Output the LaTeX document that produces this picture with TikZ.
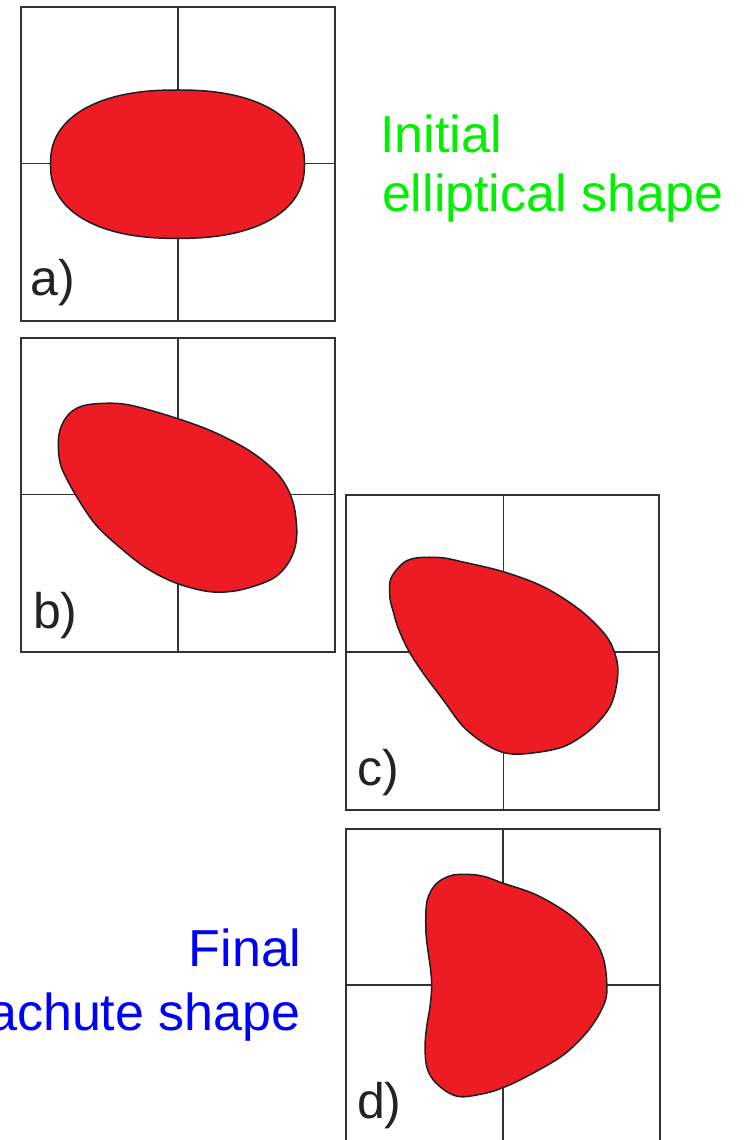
\documentclass[tikz,border=0pt]{standalone}
\usepackage{fontspec}
\setmainfont{Liberation Sans}
\definecolor{blobred}{RGB}{237,28,36}
\definecolor{edge}{RGB}{30,30,30}
\definecolor{frame}{RGB}{50,50,50}
\definecolor{labgray}{RGB}{35,35,35}
\definecolor{initgreen}{RGB}{0,240,0}
\definecolor{finalblue}{RGB}{0,0,250}
\tikzset{
  panelbox/.style={draw=frame, line width=2pt},
  panelcross/.style={draw=frame, line width=1.6pt},
  blob/.style={fill=blobred, draw=edge, line width=1.5pt, line join=round},
  panellabel/.style={text=labgray, font=\fontsize{50}{56}\selectfont, inner sep=0pt, outer sep=0pt, anchor=base west},
  greentext/.style={text=initgreen, font=\fontsize{52}{60}\selectfont, inner sep=0pt, outer sep=0pt, anchor=base west},
  bluetext/.style={text=finalblue, font=\fontsize{52}{60}\selectfont, inner sep=0pt, outer sep=0pt, anchor=base east},
}
\begin{document}
\begin{tikzpicture}[x=1pt,y=-1pt]
\useasboundingbox (0,0) rectangle (751,1140);
\clip (0,0) rectangle (751,1140);
% ---------- panel a ----------
\draw[panelbox] (21,7) rectangle (335,321);
\draw[panelcross] (178,7) -- (178,321) (21,163.5) -- (335,163.5);
\draw[blob] plot[domain=0.5:360.5, samples=181, smooth]
  ({177.5+127*sign(cos(\x))*pow(abs(cos(\x)),0.87)}, {164.2+74.2*sign(sin(\x))*pow(abs(sin(\x)),0.87)}) -- cycle;
\node[panellabel] (la) at (30.5,295) {a)};
% ---------- panel b ----------
\draw[panelbox] (21,337.5) rectangle (334.5,651.5);
\draw[panelcross] (177.7,337.5) -- (177.7,651.5) (21,494.3) -- (334.5,494.3);
\draw[blob] plot[smooth cycle, tension=0.55] coordinates {
 (76.7,408.3) (93.3,404) (126.7,404.5) (176.7,418.3) (216.7,433.3) (253.3,453.3)
 (280,476.7) (293.3,503.3) (296.7,536.7) (290,560) (273.3,578.3) (240,590)
 (210,591.7) (176.7,583.3) (146.7,568.3) (120,547.5) (96,525) (76.7,496.7)
 (61.7,468) (58.3,446.7) (60,430) (66.7,416.7)};
\node[panellabel] (lb) at (33,628.5) {b)};
% ---------- panel c ----------
\draw[panelbox] (346,494.5) rectangle (658.5,810);
\draw[panelcross] (503.3,494.5) -- (503.3,810) (346,651.7) -- (658.5,651.7);
\draw[blob] plot[smooth cycle, tension=0.55] coordinates {
 (405,561.7) (418.3,557.7) (441.7,557.7) (461.7,561.7) (503.3,571.7) (543.3,586.7) (580,610)
 (606.7,636.7) (616.7,660) (617.3,680) (610,706.7) (590,730) (563.3,746.7)
 (530,753.3) (506.7,753.3) (486.7,745) (463.3,726.7) (443.3,700) (423.3,673.3)
 (408.3,650) (398.3,628.3) (393.3,611.7) (390,598.3) (390,581.7) (395,571.7)};
\node[panellabel] (lc) at (357,785) {c)};
% ---------- panel d ----------
\draw[panelbox] (346,829) rectangle (660,1143.5);
\draw[panelcross] (502.8,829) -- (502.8,1143.5) (346,985) -- (660,985);
\draw[blob] plot[smooth cycle, tension=0.55] coordinates {
 (453.3,875) (480,875.5) (503.3,883.3) (536.7,895) (570,915) (593.3,938.3)
 (603.3,958.3) (606.7,981.7) (605,1001.7) (590,1028.3) (563.3,1055) (523.3,1078.3)
 (496.7,1090) (476.7,1095) (460,1096.7) (446.7,1091.7) (433.3,1080) (426.7,1066.7)
 (425,1046.7) (426.7,1026.7) (430,1006.7) (431.7,986.7) (430.7,970) (428.3,953.3)
 (426,933.3) (426,910) (428.3,896.7) (436.7,883.3)};
\node[panellabel] (ld) at (357,1118.3) {d)};
% ---------- captions ----------
\node[greentext] (init1) at (380.5,152.3) {Initial};
\node[greentext] (init2) at (382,211.7) {elliptical shape};
\node[bluetext] (fin1) at (301.5,966.7) {Final};
\node[bluetext] (fin2) at (300.5,1030) {parachute shape};
\end{tikzpicture}
\end{document}
